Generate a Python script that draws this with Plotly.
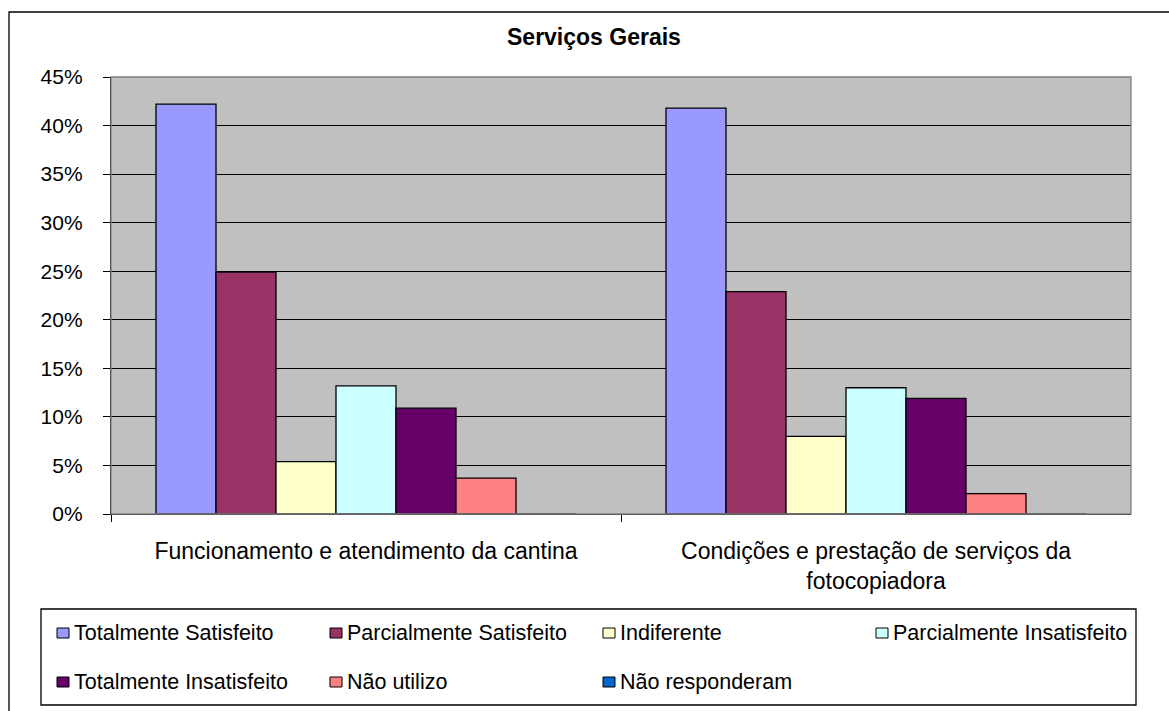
import plotly.graph_objects as go

# ---------------- data ----------------
categories = [
    "Funcionamento e atendimento da cantina",
    "Condições e prestação de serviços da<br>fotocopiadora",
]
series_names = [
    "Totalmente Satisfeito",
    "Parcialmente Satisfeito",
    "Indiferente",
    "Parcialmente Insatisfeito",
    "Totalmente Insatisfeito",
    "Não utilizo",
    "Não responderam",
]
totalmente_satisfeito = [0.422, 0.418]
parcialmente_satisfeito = [0.249, 0.229]
indiferente = [0.054, 0.080]
parcialmente_insatisfeito = [0.132, 0.130]
totalmente_insatisfeito = [0.109, 0.119]
nao_utilizo = [0.037, 0.021]
nao_responderam = [0.0, 0.0]
series_values = [
    totalmente_satisfeito,
    parcialmente_satisfeito,
    indiferente,
    parcialmente_insatisfeito,
    totalmente_insatisfeito,
    nao_utilizo,
    nao_responderam,
]
colors = ["#9999FF", "#993366", "#FFFFCC", "#CCFFFF", "#660066", "#FF8080", "#0066CC"]
title_text = "Serviços Gerais"

# ---------------- layout helpers ----------------
W, H = 1169, 711
FONT = "Liberation Sans, Arial, sans-serif"


def px(x):
    return x / W


def py(y):
    return 1 - y / H


PLOT_L, PLOT_R, PLOT_T, PLOT_B = 111, 1131, 77, 514

fig = go.Figure()
for name, vals, col in zip(series_names, series_values, colors):
    fig.add_trace(
        go.Bar(
            x=categories,
            y=vals,
            name=name,
            marker=dict(color=col, line=dict(color="black", width=1.3)),
            showlegend=False,
        )
    )

shapes = []
# outer chart border
shapes.append(dict(type="rect", xref="paper", yref="paper",
                   x0=px(9), x1=px(1185), y0=py(725), y1=py(12),
                   line=dict(color="black", width=1.3), layer="below"))
# plot area border (gray)
shapes.append(dict(type="rect", xref="paper", yref="paper",
                   x0=px(PLOT_L), x1=px(PLOT_R), y0=py(PLOT_B), y1=py(PLOT_T),
                   line=dict(color="#808080", width=1.3), layer="above"))
# legend box
shapes.append(dict(type="rect", xref="paper", yref="paper",
                   x0=px(41), x1=px(1136), y0=py(705), y1=py(609),
                   line=dict(color="black", width=1.3), layer="above"))

annotations = [
    dict(text="<b>" + title_text + "</b>", xref="paper", yref="paper",
         x=px(594), y=py(37), xanchor="center", yanchor="middle",
         showarrow=False, font=dict(family=FONT, size=23, color="black"))
]

# custom Excel-like legend
col_x = [57, 330, 603, 876]
row_y = [633, 682]
for i, (name, col) in enumerate(zip(series_names, colors)):
    r, c = divmod(i, 4)
    x0 = col_x[c]
    yc = row_y[r]
    shapes.append(dict(type="rect", xref="paper", yref="paper",
                       x0=px(x0), x1=px(x0 + 12), y0=py(yc + 5), y1=py(yc - 5),
                       fillcolor=col, line=dict(color="black", width=1),
                       layer="above"))
    annotations.append(dict(text=name, xref="paper", yref="paper",
                            x=px(x0 + 15), y=py(yc), xanchor="left", yanchor="middle",
                            showarrow=False,
                            font=dict(family=FONT, size=21.5, color="black")))

fig.update_layout(
    width=W,
    height=H,
    margin=dict(l=0, r=0, t=0, b=0, autoexpand=False),
    paper_bgcolor="white",
    plot_bgcolor="#C0C0C0",
    barmode="group",
    bargap=1.5 / 8.5,
    bargroupgap=0,
    showlegend=False,
    shapes=shapes,
    annotations=annotations,
    font=dict(family=FONT, color="black"),
    xaxis=dict(
        domain=[px(PLOT_L), px(PLOT_R)],
        range=[-0.5, 1.5],
        showgrid=False,
        showline=True,
        linecolor="black",
        linewidth=1.3,
        ticks="outside",
        tickson="boundaries",
        ticklen=7,
        tickcolor="black",
        tickwidth=1.3,
        ticklabelstandoff=16,
        tickfont=dict(family=FONT, size=23, color="black"),
        fixedrange=True,
    ),
    yaxis=dict(
        domain=[py(PLOT_B), py(PLOT_T)],
        range=[0, 0.45],
        dtick=0.05,
        tick0=0,
        tickformat=".0%",
        showgrid=True,
        gridcolor="black",
        gridwidth=1.3,
        zeroline=False,
        showline=True,
        linecolor="black",
        linewidth=1.3,
        ticks="outside",
        ticklen=7,
        tickcolor="black",
        tickwidth=1.3,
        ticklabelstandoff=16,
        tickfont=dict(family=FONT, size=21, color="black"),
        fixedrange=True,
    ),
)

fig.write_html(
    "out.html",
    config=dict(displayModeBar=False),
    post_script="document.body.style.margin='0px';document.body.style.overflow='hidden';",
)
